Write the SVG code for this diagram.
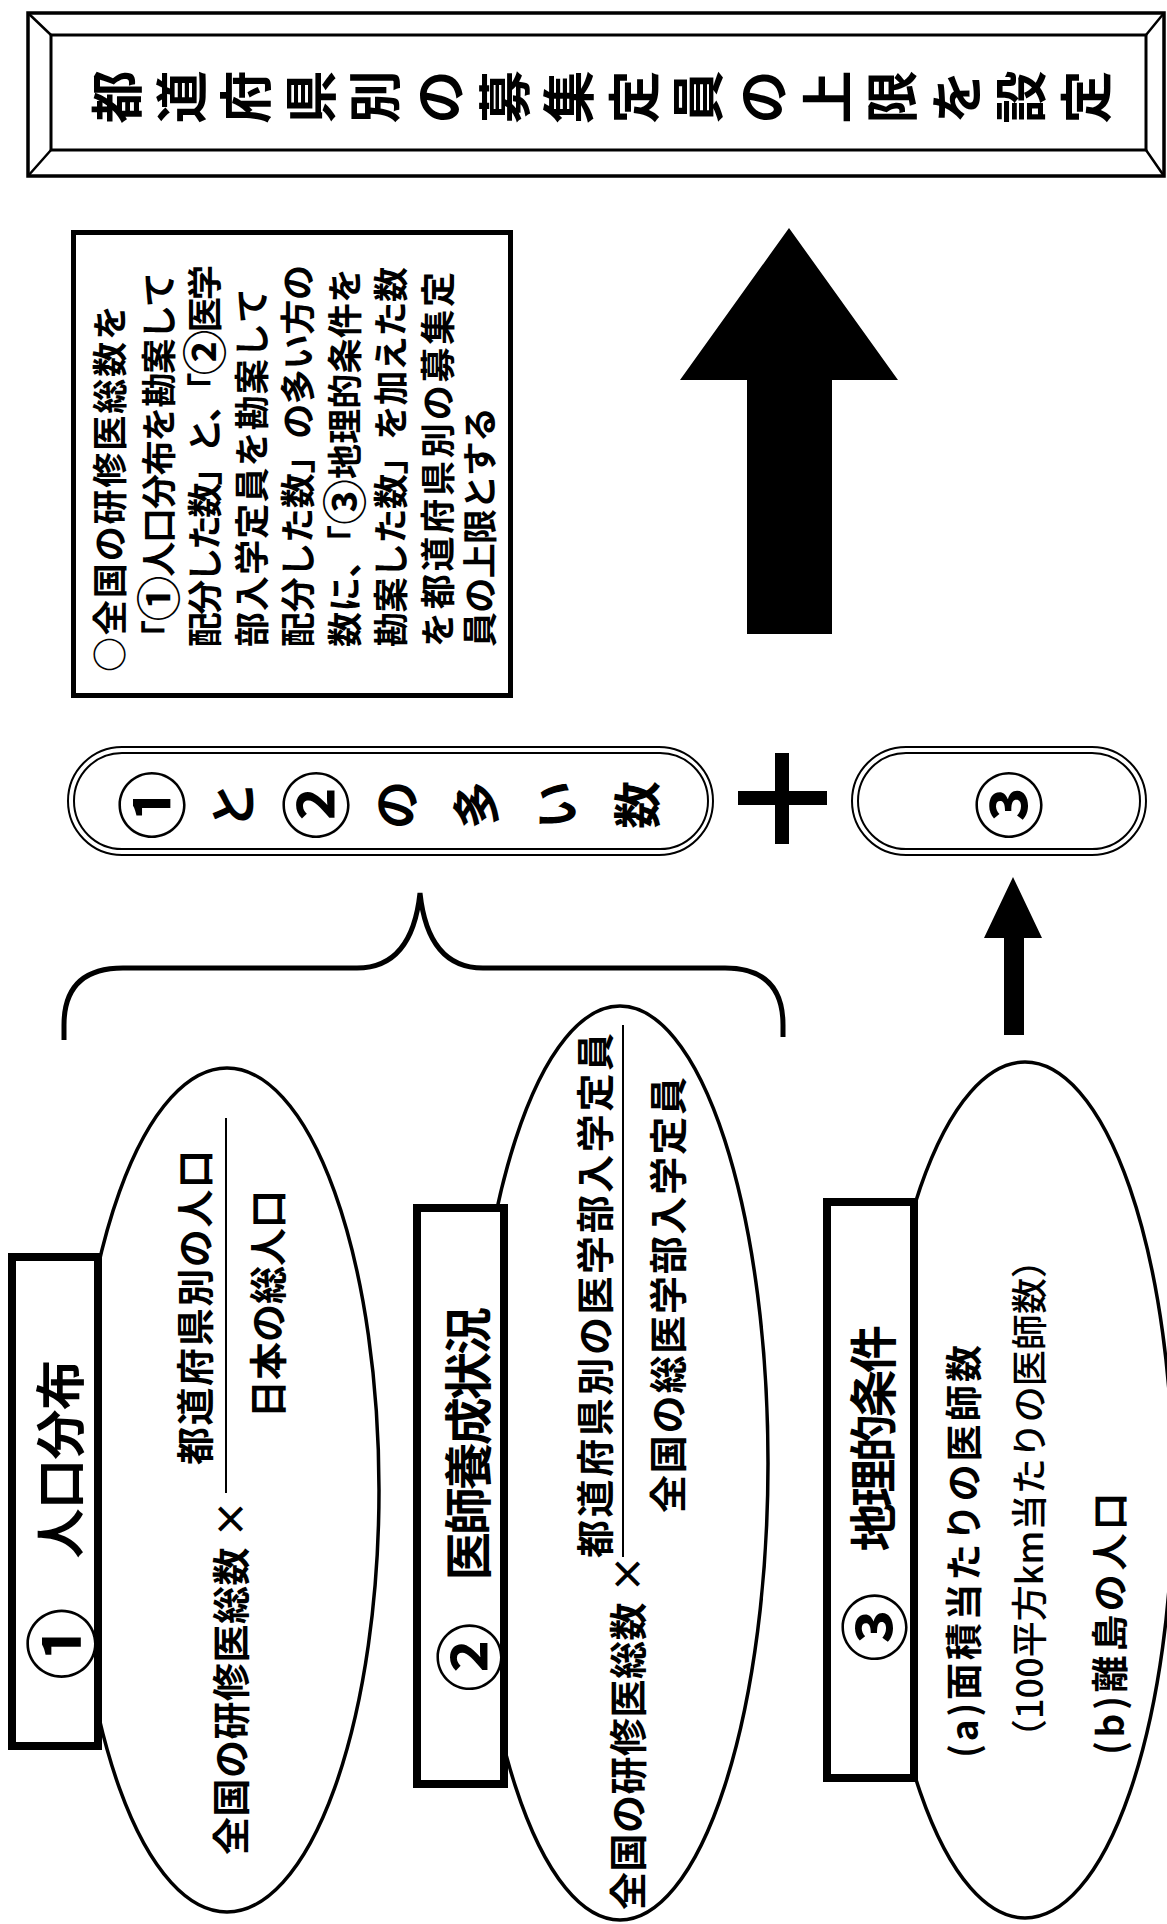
<svg xmlns="http://www.w3.org/2000/svg" width="1167" height="1924" viewBox="0 0 1167 1924">
<style>
.t{font-family:"Noto Sans CJK JP","Noto Sans",sans-serif;font-weight:700;fill:#000}
.m{font-weight:500}
.c{font-size:1.45em;dominant-baseline:central}
.cs{font-size:1.3em;dominant-baseline:central}
.ln{fill:none;stroke:#000}
.box{fill:#fff;stroke:#000;stroke-width:8}
.ell{fill:#fff;stroke:#000;stroke-width:3.5}
.g{text-anchor:middle;dominant-baseline:central}
.r{dominant-baseline:central}
</style>
<rect width="1167" height="1924" fill="#fff"/>

<g id="title">
<rect x="28" y="13" width="1136" height="163" class="ln" stroke-width="3.5"/>
<rect x="51" y="35" width="1095" height="115" class="ln" stroke-width="3"/>
<path d="M28,13 L51,35 M1164,13 L1146,35 M28,176 L51,150 M1164,176 L1146,150" class="ln" stroke-width="2.5"/>
<g class="t g" font-size="53">
<text x="114" y="97" transform="rotate(-90 114 97)">都</text>
<text x="179" y="97" transform="rotate(-90 179 97)">道</text>
<text x="243" y="97" transform="rotate(-90 243 97)">府</text>
<text x="308" y="97" transform="rotate(-90 308 97)">県</text>
<text x="372" y="97" transform="rotate(-90 372 97)">別</text>
<text x="437" y="97" transform="rotate(-90 437 97)">の</text>
<text x="502" y="97" transform="rotate(-90 502 97)">募</text>
<text x="566" y="97" transform="rotate(-90 566 97)">集</text>
<text x="631" y="97" transform="rotate(-90 631 97)">定</text>
<text x="695" y="97" transform="rotate(-90 695 97)">員</text>
<text x="760" y="97" transform="rotate(-90 760 97)">の</text>
<text x="825" y="97" transform="rotate(-90 825 97)">上</text>
<text x="889" y="97" transform="rotate(-90 889 97)">限</text>
<text x="954" y="97" transform="rotate(-90 954 97)">を</text>
<text x="1018" y="97" transform="rotate(-90 1018 97)">設</text>
<text x="1083" y="97" transform="rotate(-90 1083 97)">定</text>
</g>
</g>

<g id="note">
<rect x="73.5" y="232.5" width="437" height="463" fill="#fff" stroke="#000" stroke-width="5"/>
<g class="t r" font-size="35">
<text transform="translate(107 672) rotate(-90)" textLength="367" lengthAdjust="spacing">○全国の研修医総数を</text>
<text transform="translate(156 655) rotate(-90)" textLength="383" lengthAdjust="spacing">「<tspan class="cs">①</tspan>人口分布を勘案して</text>
<text transform="translate(202 647) rotate(-90)" textLength="382" lengthAdjust="spacing">配分した数」と、「<tspan class="cs">②</tspan>医学</text>
<text transform="translate(249 647) rotate(-90)" textLength="359" lengthAdjust="spacing">部入学定員を勘案して</text>
<text transform="translate(295 647) rotate(-90)" textLength="382" lengthAdjust="spacing">配分した数」の多い方の</text>
<text transform="translate(342 647) rotate(-90)" textLength="379" lengthAdjust="spacing">数に、「<tspan class="cs">③</tspan>地理的条件を</text>
<text transform="translate(388 647) rotate(-90)" textLength="380" lengthAdjust="spacing">勘案した数」を加えた数</text>
<text transform="translate(435 647) rotate(-90)" textLength="375" lengthAdjust="spacing">を都道府県別の募集定</text>
<text transform="translate(477 647) rotate(-90)" textLength="240" lengthAdjust="spacing">員の上限とする</text>
</g>
</g>

<g id="pill-12">
<rect x="68" y="747" width="645" height="108" rx="54" class="ln" stroke-width="2"/>
<rect x="74" y="753" width="634" height="96" rx="48" class="ln" stroke-width="2"/>
<g class="t g" font-size="48">
<text x="148" y="805" font-size="70" transform="rotate(-90 148 805)">①</text>
<text x="230" y="805" transform="rotate(-90 230 805)">と</text>
<text x="312" y="805" font-size="70" transform="rotate(-90 312 805)">②</text>
<text x="393" y="805" transform="rotate(-90 393 805)">の</text>
<text x="473" y="805" transform="rotate(-90 473 805)">多</text>
<text x="553" y="805" transform="rotate(-90 553 805)">い</text>
<text x="634" y="805" transform="rotate(-90 634 805)">数</text>
</g>
</g>

<g id="plus">
<rect x="775" y="753" width="14" height="91" fill="#000"/>
<rect x="738" y="791" width="89" height="14" fill="#000"/>
</g>

<g id="pill-3">
<rect x="852" y="747" width="294" height="108" rx="54" class="ln" stroke-width="2"/>
<rect x="858" y="753" width="282" height="96" rx="48" class="ln" stroke-width="2"/>
<text class="t g" font-size="70" x="1005" y="805" transform="rotate(-90 1005 805)">③</text>
</g>

<g id="node1">
<ellipse cx="227" cy="1490" rx="152" ry="422" class="ell"/>
<rect x="12" y="1257" width="86" height="489" class="box"/>
<text class="t r" font-size="50" transform="translate(57 1680) rotate(-90)" textLength="320" lengthAdjust="spacing"><tspan class="c">①</tspan>　人口分布</text>
<g class="t r" font-size="38">
<text transform="translate(228 1855) rotate(-90)" textLength="355" lengthAdjust="spacing">全国の研修医総数 ×</text>
<text transform="translate(192 1465) rotate(-90)" textLength="315" lengthAdjust="spacing">都道府県別の人口</text>
<text transform="translate(265 1418) rotate(-90)" textLength="228" lengthAdjust="spacing">日本の総人口</text>
</g>
<line x1="226" y1="1118" x2="226" y2="1493" class="ln" stroke-width="2"/>
</g>

<g id="node2">
<ellipse cx="620" cy="1463" rx="148" ry="457" class="ell"/>
<rect x="417" y="1208" width="87" height="576" class="box"/>
<text class="t r" font-size="48" transform="translate(465 1692) rotate(-90)" textLength="385" lengthAdjust="spacing"><tspan class="c">②</tspan>　医師養成状況</text>
<g class="t r" font-size="38">
<text transform="translate(625 1910) rotate(-90)" textLength="355" lengthAdjust="spacing">全国の研修医総数 ×</text>
<text transform="translate(592 1558) rotate(-90)" textLength="525" lengthAdjust="spacing">都道府県別の医学部入学定員</text>
<text transform="translate(665 1513) rotate(-90)" textLength="436" lengthAdjust="spacing">全国の総医学部入学定員</text>
</g>
<line x1="623" y1="1025" x2="623" y2="1557" class="ln" stroke-width="2"/>
</g>

<g id="node3">
<ellipse cx="1025" cy="1490" rx="148" ry="428" class="ell"/>
<rect x="827" y="1202" width="87" height="576" class="box"/>
<text class="t r" font-size="48" transform="translate(870 1662) rotate(-90)" textLength="337" lengthAdjust="spacing"><tspan class="c">③</tspan>　地理的条件</text>
<g class="t r" font-size="37">
<text transform="translate(962 1758) rotate(-90)" textLength="413" lengthAdjust="spacing">(a)面積当たりの医師数</text>
<text class="m" font-size="36" transform="translate(1027 1755) rotate(-90)" textLength="513" lengthAdjust="spacing">（100平方km当たりの医師数）</text>
<text transform="translate(1108 1755) rotate(-90)" textLength="262" lengthAdjust="spacing">(b)離島の人口</text>
</g>
</g>

<g id="connectors">
<polygon id="arrow-main" points="789,228 898,380 832,380 832,634 747,634 747,380 680,380" fill="#000"/>
<polygon id="arrow-small" points="1013,877 1042,938 1024,938 1024,1035 1004,1035 1004,938 984,938" fill="#000"/>
<path id="brace" d="M64,1040 L64,1025 Q64,968 123,968 L357,968 Q412,968 420,893 Q428,968 483,968 L725,968 Q783,968 783,1025 L783,1037" class="ln" stroke-width="5"/>
</g>
</svg>
